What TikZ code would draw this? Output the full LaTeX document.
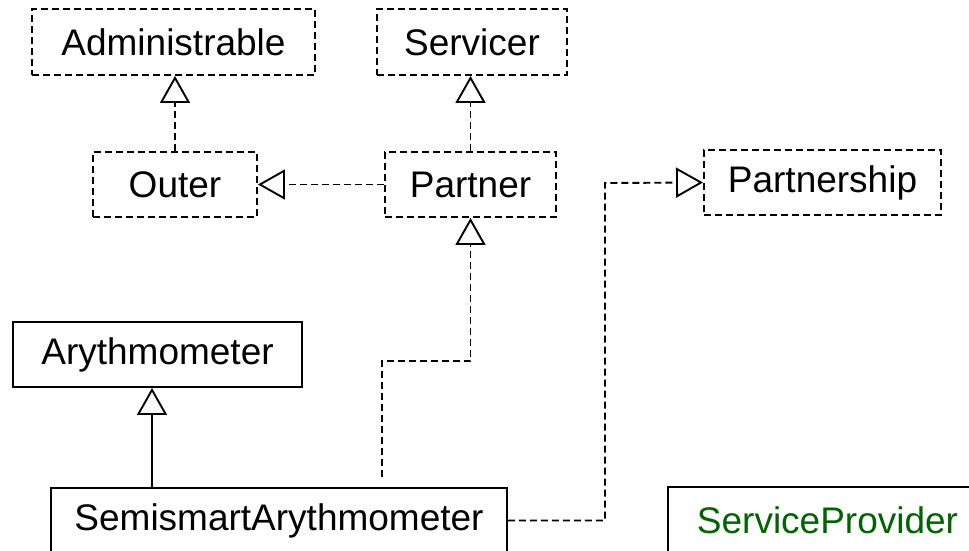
\documentclass[tikz,border=0pt]{standalone}
\usepackage{fontspec}
\setmainfont{Liberation Sans}
\usetikzlibrary{arrows.meta}
\definecolor{spgreen}{HTML}{006400}
\tikzset{
  cls/.style={draw=black, line width=1.9pt, inner sep=0pt, minimum height=65pt,
    font=\fontsize{37}{44}\selectfont, fill=white},
  iface/.style={cls, dashed, dash pattern=on 7pt off 4pt},
  realize/.style={line width=1.9pt, dash pattern=on 7pt off 4pt,
    -{Triangle[open, length=27pt, width=30pt, fill=white]}},
  inherit/.style={line width=1.9pt,
    -{Triangle[open, length=27pt, width=30pt, fill=white]}},
}
\begin{document}
\begin{tikzpicture}[x=1pt,y=-1pt]
\useasboundingbox (0,0) rectangle (969,550);
\begin{scope}
\clip (0,0) rectangle (969,550);
\node[iface, minimum width=283pt, minimum height=66pt] (adm) at (173.5,42) {Administrable};
\node[iface, minimum width=190pt, minimum height=66pt] (serv) at (472,42) {Servicer};
\node[iface, minimum width=164pt] (outer) at (175,184.5) {Outer};
\node[iface, minimum width=171pt] (partner) at (470.5,184.5) {Partner};
\node[iface, minimum width=237pt] (pship) at (822.5,182.5) {Partnership};
\node[cls, minimum width=289pt] (ary) at (157.5,354.5) {Arythmometer};
\node[cls, minimum width=456pt] (semi) at (279,520.5) {SemismartArythmometer};
\node[cls, draw=none, anchor=west, inner xsep=28pt, text width=400pt, align=left,
  text=spgreen] (sp) at (668,520.5) {ServiceProvider};
\draw[line width=1.9pt] (sp.north east) -- (sp.north west) -- (sp.south west);
\coordinate (k1) at (382,361);
\coordinate (k2) at (605,183);
% connectors
\draw[realize] (outer.north) -- (outer.north |- adm.south);
\draw[realize] (partner.north) -- (partner.north |- serv.south);
\draw[realize] (partner.west) -- (outer.east);
\draw[inherit] ([xshift=-5.5pt]semi.north -| ary.south) -- ([xshift=-5.5pt]ary.south);
\draw[realize, shorten <=10pt] (semi.north -| k1) -- (k1) -| (partner.south);
\draw[realize] (semi.east) -| (k2) -- (pship.west);
\end{scope}
\end{tikzpicture}
\end{document}
